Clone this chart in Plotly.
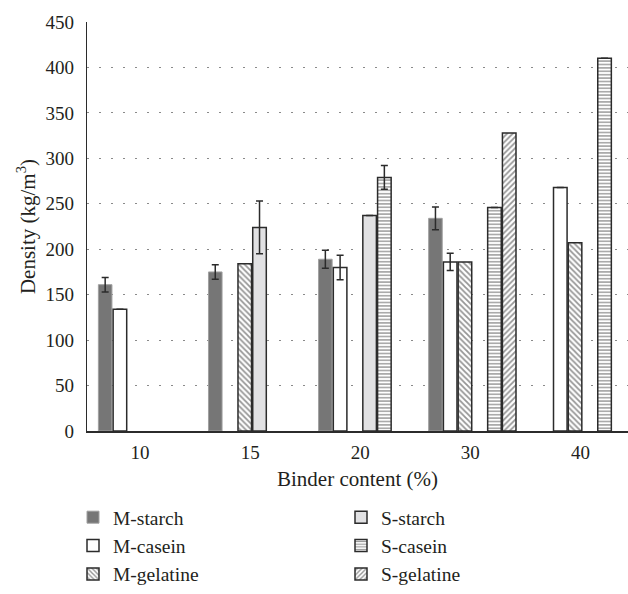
import plotly.graph_objects as go

categories = ["10", "15", "20", "30", "40"]

m_starch = [161, 175, 189, 234, None]
m_starch_err = [8, 8, 10, 12.5, None]
m_casein = [134, None, 180, 186, 268]
m_casein_err = [None, None, 13.5, 9.5, None]
m_gelatine = [None, 184, None, 186, 207]
s_starch = [None, 224, 237, None, None]
s_starch_err = [None, 29, None, None, None]
s_casein = [None, None, 279, 246, 410]
s_casein_err = [None, None, 13, None, None]
s_gelatine = [None, None, None, 328, None]

FONT = "Liberation Serif"
TXT = "#231f20"
EDGE = "#2b2b2b"
FS_TICK = 19
FS_TXT = 21
FS_LEG = 19.5

def err(arr):
    return dict(type="data", array=arr, visible=True, color=EDGE,
                thickness=1.5, width=3.5)

fig = go.Figure()

fig.add_trace(go.Bar(
    name="M-starch", x=categories, y=m_starch, error_y=err(m_starch_err),
    marker=dict(color="#767676", line=dict(color="#a0a0a0", width=1)),
    legend="legend", legendgroup="a"))
fig.add_trace(go.Bar(
    name="M-casein", x=categories, y=m_casein, error_y=err(m_casein_err),
    marker=dict(color="white", line=dict(color=EDGE, width=1.5)),
    legend="legend", legendgroup="b"))
fig.add_trace(go.Bar(
    name="M-gelatine", x=categories, y=m_gelatine,
    marker=dict(color="white", line=dict(color=EDGE, width=1.5),
                pattern=dict(shape="\\", fgcolor=EDGE, bgcolor="white",
                             size=4, solidity=0.45)),
    legend="legend", legendgroup="c"))
fig.add_trace(go.Bar(
    name="S-starch", x=categories, y=s_starch, error_y=err(s_starch_err),
    marker=dict(color="#e1e1e3", line=dict(color=EDGE, width=1.5)),
    legend="legend2", legendgroup="d"))
fig.add_trace(go.Bar(
    name="S-casein", x=categories, y=s_casein, error_y=err(s_casein_err),
    marker=dict(color="white", line=dict(color=EDGE, width=1.5),
                pattern=dict(shape="-", fgcolor=EDGE, bgcolor="white",
                             size=3.4, solidity=0.4)),
    legend="legend2", legendgroup="e"))
fig.add_trace(go.Bar(
    name="S-gelatine", x=categories, y=s_gelatine,
    marker=dict(color="white", line=dict(color=EDGE, width=1.5),
                pattern=dict(shape="/", fgcolor=EDGE, bgcolor="white",
                             size=4, solidity=0.45)),
    legend="legend2", legendgroup="f"))

legend_common = dict(
    orientation="v", yanchor="top", xanchor="left",
    y=-0.165,
    font=dict(family=FONT, size=FS_LEG, color=TXT),
    bgcolor="rgba(0,0,0,0)", borderwidth=0,
    traceorder="grouped", tracegroupgap=0, itemclick=False,
)

fig.update_layout(
    width=628, height=594,
    margin=dict(l=87, r=0, t=22, b=163),
    paper_bgcolor="white", plot_bgcolor="white",
    barmode="group", bargap=0.196, bargroupgap=0.08,
    font=dict(family=FONT, size=FS_TXT, color=TXT),
    showlegend=True,
    legend=dict(x=(73 - 87) / 541, **legend_common),
    legend2=dict(x=(341 - 87) / 541, **legend_common),
    xaxis=dict(
        type="category", range=[-0.5, 4.414], automargin=False,
        showline=True, linecolor=EDGE, linewidth=1.5,
        ticks="", showgrid=False,
        tickfont=dict(family=FONT, size=FS_TICK, color=TXT),
        ticklabelshift=-2, ticklabelstandoff=3,
        title=dict(text="Binder content (%)", standoff=10,
                   font=dict(family=FONT, size=FS_TXT, color=TXT)),
    ),
    yaxis=dict(
        range=[0, 450], tickvals=[0, 50, 100, 150, 200, 250, 300, 350, 400, 450],
        automargin=False,
        showline=True, linecolor=EDGE, linewidth=1.2,
        ticks="", ticklabelstandoff=8,
        showgrid=True, gridcolor="#8a8a8a", gridwidth=1, griddash="2px,10px",
        zeroline=False,
        tickfont=dict(family=FONT, size=FS_TICK, color=TXT),
        title=dict(text="Density (kg/m<sup>3</sup>)", standoff=4,
                   font=dict(family=FONT, size=FS_TXT, color=TXT)),
    ),
)

fig.write_html("out.html",
               config={"displayModeBar": False},
               post_script="document.body.style.margin='0px';")
